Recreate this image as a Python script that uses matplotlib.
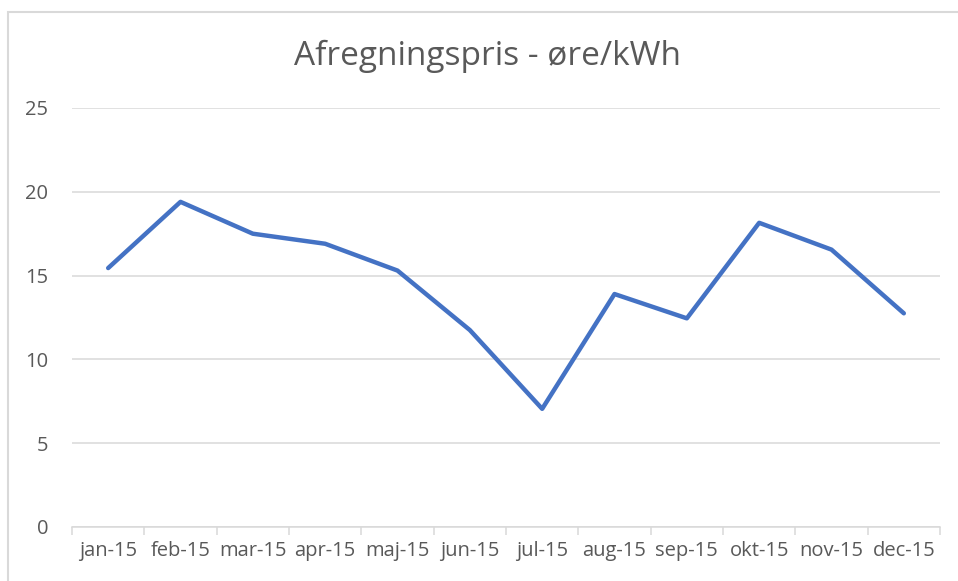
import matplotlib
matplotlib.use("Agg")
import matplotlib.pyplot as plt
from matplotlib.patches import Rectangle

# data
months = ['jan-15', 'feb-15', 'mar-15', 'apr-15', 'maj-15', 'jun-15',
          'jul-15', 'aug-15', 'sep-15', 'okt-15', 'nov-15', 'dec-15']
price = [15.45, 19.4, 17.5, 16.9, 15.3, 11.75, 7.05, 13.9, 12.45, 18.15, 16.55, 12.75]
y_ticks = [0, 5, 10, 15, 20, 25]

plt.rcParams['font.family'] = ['Open Sans', 'DejaVu Sans']

fig = plt.figure(figsize=(9.58, 5.81), dpi=100)
ax = fig.add_axes([72 / 958, 54 / 581, 868 / 958, 419 / 581])

x = list(range(len(months)))
ax.plot(x, price, color='#4472C4', linewidth=3.2, solid_capstyle='round', solid_joinstyle='round', zorder=3)

ax.set_xlim(-0.5, len(months) - 0.5)
ax.set_ylim(0, 25)
ax.set_yticks(y_ticks)
ax.set_xticks(x)
ax.set_xticklabels(months)
ax.set_xticks([i - 0.5 for i in range(len(months) + 1)], minor=True)

ax.grid(axis='y', color='#D9D9D9', linewidth=1.1)
ax.set_axisbelow(True)
for s in ['top', 'right', 'left']:
    ax.spines[s].set_visible(False)
ax.spines['bottom'].set_color('#D9D9D9')
ax.spines['bottom'].set_linewidth(1.1)

ax.tick_params(axis='y', length=0, pad=17, labelsize=14.5, labelcolor='#595959')
ax.tick_params(axis='x', which='major', length=0, pad=10, labelsize=14.5, labelcolor='#595959')
ax.tick_params(axis='x', which='minor', length=6, width=1.1, color='#D9D9D9')

fig.text(487 / 958, 1 - 56 / 581, 'Afregningspris - øre/kWh', ha='center', va='center',
         fontsize=24, color='#595959')

# chart frame
fig.patches.append(Rectangle((8 / 958, -0.1), 1.2, 1 - 12 / 581 + 0.1, transform=fig.transFigure,
                             fill=False, edgecolor='#D9D9D9', linewidth=1.5))

fig.savefig('out.png', dpi=100, facecolor='white')
